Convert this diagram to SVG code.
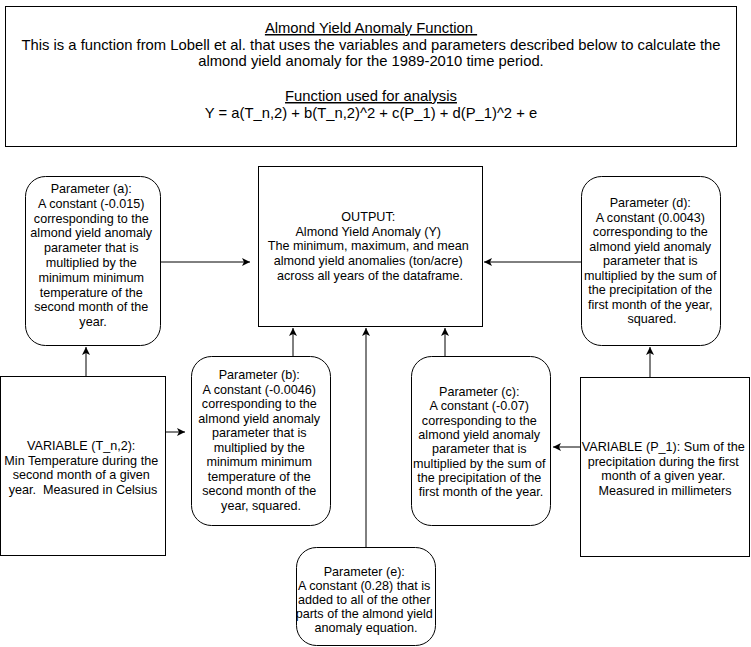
<svg xmlns="http://www.w3.org/2000/svg" width="751" height="647" viewBox="0 0 751 647">
  <style>
    .box { fill: #ffffff; stroke: #000000; stroke-width: 1; }
    .t { font-family: "Liberation Sans", Arial, Helvetica, sans-serif; font-size: 12.6px; fill: #000000; text-anchor: middle; }
    .big { font-size: 14.8px; }
    .u { text-decoration: underline; }
    .edge { fill: none; stroke: #000000; stroke-width: 1; }
  </style>
  <defs>
    <marker id="arrow" markerUnits="userSpaceOnUse" markerWidth="10" markerHeight="10" refX="8" refY="4" orient="auto">
      <path d="M0,0 L8,4 L0,8 L2,4 Z" fill="#000000"/>
    </marker>
  </defs>
  <rect width="751" height="647" fill="#ffffff"/>

  <!-- header: function description -->
  <g id="header">
    <rect class="box" x="5.5" y="6.5" width="731" height="140"/>
    <text class="t big" x="371" y="33"><tspan class="u">Almond Yield Anomaly Function&#160;</tspan></text>
    <text class="t big" x="371" y="49.5">This is a function from Lobell et al. that uses the variables and parameters described below to calculate the</text>
    <text class="t big" x="371" y="66">almond yield anomaly for the 1989-2010 time period.</text>
    <text class="t big" x="371" y="101"><tspan class="u">Function used for analysis</tspan></text>
    <text class="t big" x="371" y="118">Y = a(T_n,2) + b(T_n,2)^2 + c(P_1) + d(P_1)^2 + e</text>
  </g>

  <!-- connectors -->
  <g id="connectors">
    <line class="edge" x1="161" y1="262" x2="250" y2="262" marker-end="url(#arrow)"/>
    <line class="edge" x1="581" y1="262" x2="484" y2="262" marker-end="url(#arrow)"/>
    <line class="edge" x1="86" y1="376" x2="86" y2="347" marker-end="url(#arrow)"/>
    <line class="edge" x1="166" y1="432" x2="185" y2="432" marker-end="url(#arrow)"/>
    <line class="edge" x1="293" y1="356" x2="293" y2="328" marker-end="url(#arrow)"/>
    <line class="edge" x1="366" y1="547" x2="366" y2="328" marker-end="url(#arrow)"/>
    <line class="edge" x1="445" y1="356" x2="445" y2="328" marker-end="url(#arrow)"/>
    <line class="edge" x1="580" y1="447" x2="553" y2="447" marker-end="url(#arrow)"/>
    <line class="edge" x1="650" y1="377" x2="650" y2="347" marker-end="url(#arrow)"/>
  </g>

  <!-- output -->
  <g id="output">
    <rect class="box" x="258.5" y="166.5" width="224" height="160"/>
    <text class="t" x="370" y="221">
      <tspan x="370" dy="0">OUTPUT:</tspan>
      <tspan x="370" dy="14.7">Almond Yield Anomaly (Y)</tspan>
      <tspan x="370" dy="14.7">The minimum, maximum, and mean</tspan>
      <tspan x="370" dy="14.7">almond yield anomalies (ton/acre)</tspan>
      <tspan x="370" dy="14.7">across all years of the dataframe.</tspan>
    </text>
  </g>

  <!-- parameter a -->
  <g id="param-a">
    <rect class="box" x="25.5" y="176.5" width="135" height="169" rx="20" ry="20"/>
    <text class="t" x="93" y="193">
      <tspan x="93" dy="0">Parameter (a):</tspan>
      <tspan x="93" dy="14.8">A constant (-0.015)</tspan>
      <tspan x="93" dy="14.8">corresponding to the</tspan>
      <tspan x="93" dy="14.8">almond yield anomaly</tspan>
      <tspan x="93" dy="14.8">parameter that is</tspan>
      <tspan x="93" dy="14.8">multiplied by the</tspan>
      <tspan x="93" dy="14.8">minimum minimum</tspan>
      <tspan x="93" dy="14.8">temperature of the</tspan>
      <tspan x="93" dy="14.8">second month of the</tspan>
      <tspan x="93" dy="14.8">year.</tspan>
    </text>
  </g>

  <!-- parameter d -->
  <g id="param-d">
    <rect class="box" x="581.5" y="176.5" width="139" height="169" rx="20" ry="20"/>
    <text class="t" x="652" y="207">
      <tspan x="652" dy="0">Parameter (d):</tspan>
      <tspan x="652" dy="14.5">A constant (0.0043)</tspan>
      <tspan x="652" dy="14.5">corresponding to the</tspan>
      <tspan x="652" dy="14.5">almond yield anomaly</tspan>
      <tspan x="652" dy="14.5">parameter that is</tspan>
      <tspan x="652" dy="14.5">multiplied by the sum of</tspan>
      <tspan x="652" dy="14.5">the precipitation of the</tspan>
      <tspan x="652" dy="14.5">first month of the year,</tspan>
      <tspan x="652" dy="14.5">squared.</tspan>
    </text>
  </g>

  <!-- variable T_n,2 -->
  <g id="var-tn2">
    <rect class="box" x="0.5" y="376.5" width="165" height="179"/>
    <text class="t" x="83" y="450">
      <tspan x="83" dy="0">VARIABLE (T_n,2):</tspan>
      <tspan x="83" dy="14.7">Min Temperature during the</tspan>
      <tspan x="83" dy="14.7">second month of a given</tspan>
      <tspan x="83" dy="14.7">year.&#160; Measured in Celsius</tspan>
    </text>
  </g>

  <!-- parameter b -->
  <g id="param-b">
    <rect class="box" x="191.5" y="356.5" width="139" height="169" rx="20" ry="20"/>
    <text class="t" x="261" y="379">
      <tspan x="261" dy="0">Parameter (b):</tspan>
      <tspan x="261" dy="14.5">A constant (-0.0046)</tspan>
      <tspan x="261" dy="14.5">corresponding to the</tspan>
      <tspan x="261" dy="14.5">almond yield anomaly</tspan>
      <tspan x="261" dy="14.5">parameter that is</tspan>
      <tspan x="261" dy="14.5">multiplied by the</tspan>
      <tspan x="261" dy="14.5">minimum minimum</tspan>
      <tspan x="261" dy="14.5">temperature of the</tspan>
      <tspan x="261" dy="14.5">second month of the</tspan>
      <tspan x="261" dy="14.5">year, squared.</tspan>
    </text>
  </g>

  <!-- parameter c -->
  <g id="param-c">
    <rect class="box" x="411.5" y="356.5" width="139" height="169" rx="20" ry="20"/>
    <text class="t" x="481" y="396">
      <tspan x="481" dy="0">Parameter (c):</tspan>
      <tspan x="481" dy="14.3">A constant (-0.07)</tspan>
      <tspan x="481" dy="14.3">corresponding to the</tspan>
      <tspan x="481" dy="14.3">almond yield anomaly</tspan>
      <tspan x="481" dy="14.3">parameter that is</tspan>
      <tspan x="481" dy="14.3">multiplied by the sum of</tspan>
      <tspan x="481" dy="14.3">the precipitation of the</tspan>
      <tspan x="481" dy="14.3">first month of the year.</tspan>
    </text>
  </g>

  <!-- variable P_1 -->
  <g id="var-p1">
    <rect class="box" x="580.5" y="377.5" width="169" height="179"/>
    <text class="t" x="665" y="451">
      <tspan x="665" dy="0">VARIABLE (P_1): Sum of the</tspan>
      <tspan x="665" dy="14.5">precipitation during the first</tspan>
      <tspan x="665" dy="14.5">month of a given year.</tspan>
      <tspan x="665" dy="14.5">Measured in millimeters</tspan>
    </text>
  </g>

  <!-- parameter e -->
  <g id="param-e">
    <rect class="box" x="296.5" y="547.5" width="139" height="98" rx="20" ry="20"/>
    <text class="t" x="366" y="576">
      <tspan x="366" dy="0">Parameter (e):</tspan>
      <tspan x="366" dy="13.9">A constant (0.28) that is</tspan>
      <tspan x="366" dy="13.9">added to all of the other</tspan>
      <tspan x="366" dy="13.9">parts of the almond yield</tspan>
      <tspan x="366" dy="13.9">anomaly equation.</tspan>
    </text>
  </g>
</svg>
